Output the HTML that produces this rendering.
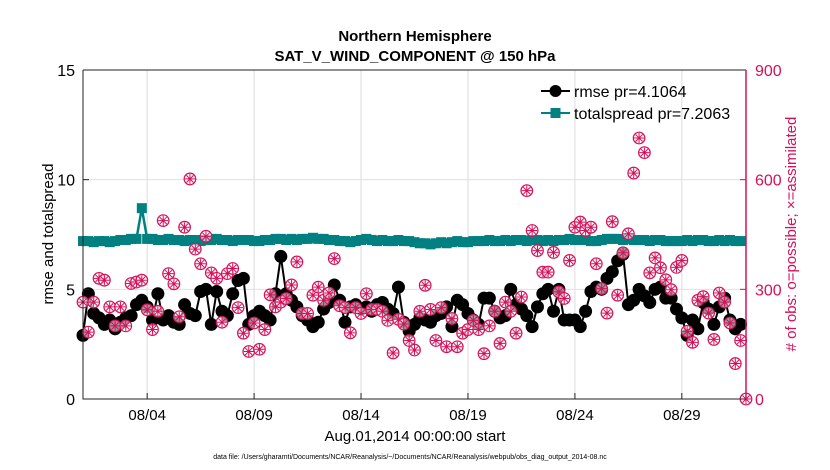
<!DOCTYPE html>
<html><head><meta charset="utf-8"><style>
body{margin:0;background:#fff;}
svg{display:block;font-family:"Liberation Sans",Arial,sans-serif;}
</style></head><body>
<svg id="chart" width="830" height="470" viewBox="0 0 830 470">
<rect width="830" height="470" fill="#fff"/>
<text x="415" y="41" text-anchor="middle" font-size="15" font-weight="bold">Northern Hemisphere</text>
<text x="415" y="61" text-anchor="middle" font-size="15" font-weight="bold">SAT_V_WIND_COMPONENT @ 150 hPa</text>
<g id="grid"></g>
<g id="marks"></g>
<g id="axes"></g>
<g>
<line x1="541" y1="91" x2="570" y2="91" stroke="#000" stroke-width="2"/>
<circle cx="555.5" cy="91" r="6" fill="#000"/>
<text x="574" y="97" font-size="16">rmse pr=4.1064</text>
<line x1="541" y1="113" x2="570" y2="113" stroke="#008080" stroke-width="2"/>
<rect x="550.5" y="108" width="10" height="10" fill="#008080"/>
<text x="574" y="119" font-size="16">totalspread pr=7.2063</text>
</g>
<text transform="translate(53,234) rotate(-90)" text-anchor="middle" font-size="15">rmse and totalspread</text>
<text transform="translate(796,234) rotate(-90)" text-anchor="middle" font-size="15" fill="#d6105a"># of obs: o=possible; ×=assimilated</text>
<text x="415" y="441" text-anchor="middle" font-size="15">Aug.01,2014 00:00:00 start</text>
<text x="410" y="459" text-anchor="middle" font-size="7">data file: /Users/gharamti/Documents/NCAR/Reanalysis/~/Documents/NCAR/Reanalysis/webpub/obs_diag_output_2014-08.nc</text>
</svg>
<script>
const rmse=[2.9,4.8,3.9,3.7,3.4,3.6,3.2,3.5,3.7,3.8,4.3,4.5,4.2,3.6,4.8,3.6,3.8,3.5,3.4,4.3,3.9,3.8,4.9,5.0,3.4,4.9,4.0,3.8,4.8,5.4,5.5,3.4,3.8,4.0,3.8,3.6,4.8,6.5,4.8,4.5,4.2,
3.8,3.6,3.3,3.5,4.1,4.4,5.2,4.5,3.5,4.2,4.3,4.1,4.2,4.0,4.3,4.4,4.1,3.9,5.1,3.5,3.1,3.4,3.7,3.6,3.5,3.8,3.9,4.2,3.3,4.5,4.3,3.9,3.6,3.4,4.6,4.6,4.0,3.7,3.8,5.0,4.3,
4.1,3.8,3.3,4.2,4.8,5.0,4.0,5.0,3.6,3.6,3.6,3.3,4.0,4.9,5.1,5.0,5.5,5.8,6.3,6.6,4.3,4.5,5.0,4.7,4.4,5.0,5.1,4.6,4.6,4.1,3.7,2.9,3.6,3.2,4.4,4.1,3.4,4.2,4.6,3.6,3.2,3.4];
const spread=[7.2,7.2,7.15,7.2,7.2,7.15,7.2,7.25,7.25,7.3,7.3,8.7,7.3,7.3,7.25,7.25,7.3,7.25,7.25,7.2,7.25,7.25,7.2,7.25,7.25,7.3,7.25,7.25,7.2,7.25,7.25,7.25,7.2,7.2,7.25,7.25,7.3,7.3,7.25,7.3,7.25,
7.3,7.3,7.35,7.3,7.3,7.25,7.25,7.2,7.2,7.15,7.2,7.25,7.3,7.25,7.2,7.25,7.2,7.2,7.25,7.2,7.2,7.15,7.1,7.1,7.05,7.1,7.15,7.1,7.15,7.2,7.15,7.15,7.2,7.2,7.2,7.25,7.2,7.2,7.25,7.2,7.25,
7.25,7.2,7.25,7.25,7.2,7.25,7.2,7.25,7.25,7.3,7.25,7.25,7.25,7.2,7.2,7.25,7.3,7.3,7.3,7.25,7.3,7.25,7.25,7.25,7.2,7.25,7.25,7.2,7.2,7.2,7.2,7.25,7.2,7.25,7.25,7.2,7.2,7.25,7.2,7.25,7.2,7.2];
const obs=[265,183,265,330,325,252,200,252,200,316,320,325,244,190,240,488,343,315,225,470,602,410,370,445,345,330,210,343,357,250,180,130,208,136,190,285,252,265,275,312,375,
234,234,284,306,270,290,384,255,250,181,250,234,288,245,245,240,215,126,218,205,160,134,240,311,245,160,250,143,220,143,180,190,215,190,124,200,240,152,265,240,180,
279,570,461,406,347,347,401,293,275,379,470,484,461,470,370,302,235,485,284,400,452,618,714,674,345,386,359,326,299,360,379,185,155,270,280,235,163,290,265,208,97,160,0];
const xTickDays=[3,8,13,18,23,28];
const xTickLabels=["08/04","08/09","08/14","08/19","08/24","08/29"];
const yTicks=[0,5,10,15];
const y2Ticks=[0,300,600,900];

const NS="http://www.w3.org/2000/svg";
const L=83,R=746,T=70,B=399;
const xs=d=>L+(d/31)*(R-L);
const ys=v=>B-(v/15)*(B-T);
const ys2=v=>B-(v/900)*(B-T);
function mk(tag,attrs,parent){const e=document.createElementNS(NS,tag);for(const k in attrs)e.setAttribute(k,attrs[k]);parent.appendChild(e);return e;}
const grid=document.getElementById('grid'),marks=document.getElementById('marks'),axes=document.getElementById('axes');

xTickDays.forEach((d,i)=>{
 const g=mk('line',{x1:xs(d),x2:xs(d),y1:T,y2:B,stroke:'#dcdcdc','stroke-width':1},grid);
 
 
 const t=mk('line',{x1:xs(d),x2:xs(d),y1:B,y2:B-6,stroke:'#222'},axes);
 
 
 const tx=mk('text',{x:xs(d),y:B+21,'text-anchor':'middle','font-size':15},axes);
 tx.textContent=xTickLabels[i];
 
 
});
yTicks.forEach(v=>{
 if(v>0&&v<15){const g=mk('line',{x1:L,x2:R,y1:ys(v),y2:ys(v),stroke:'#f0d8e0','stroke-width':1},grid);
 
 }
 const t=mk('line',{x1:L,x2:L+6,y1:ys(v),y2:ys(v),stroke:'#222'},axes);
 
 
 const tx=mk('text',{x:L-8,y:ys(v)+6,'text-anchor':'end','font-size':16},axes);
 tx.textContent=v;
 
 
});
y2Ticks.forEach(v=>{
 const t=mk('line',{x1:R,x2:R-6,y1:ys2(v),y2:ys2(v),stroke:'#d6105a'},axes);
 
 
 const tx=mk('text',{x:R+9,y:ys2(v)+6,'font-size':16,fill:'#d6105a'},axes);
 tx.textContent=v;
 
 
});
const fr=mk('path',{d:`M${L},${T}H${R}M${L},${T}V${B}H${R}`,fill:'none',stroke:'#222','stroke-width':1},axes);


const ra=mk('line',{x1:R,x2:R,y1:T,y2:B,stroke:'#d6105a','stroke-width':1.5},axes);



const sp=mk('polyline',{points:spread.map((v,i)=>xs(i*0.25)+','+ys(v)).join(' '),fill:'none',stroke:'#008080','stroke-width':2.5},marks);


spread.forEach((v,i)=>{
 const r=mk('rect',{x:xs(i*0.25)-5,y:ys(v)-5,width:10,height:10,fill:'#008080'},marks);
 
 
});
const rl=mk('polyline',{points:rmse.map((v,i)=>xs(i*0.25)+','+ys(v)).join(' '),fill:'none',stroke:'#000','stroke-width':2},marks);


rmse.forEach((v,i)=>{
 const c=mk('circle',{cx:xs(i*0.25),cy:ys(v),r:6.5,fill:'#000'},marks);
 
 
});
obs.forEach((v,i)=>{
 const cx=xs(i*0.25),cy=ys2(v);
 const g=mk('g',{},marks);
 
 
 mk('circle',{cx:cx,cy:cy,r:5.8,fill:'#fff','fill-opacity':0.6,stroke:'#d6105a','stroke-width':1.2},g);
 let d='';
 for(let a=0;a<4;a++){const an=a*Math.PI/4,dx=5*Math.cos(an),dy=5*Math.sin(an);d+=`M${cx-dx},${cy-dy}L${cx+dx},${cy+dy}`;}
 mk('path',{d:d,stroke:'#d6105a','stroke-width':1},g);
});
</script>
</body></html>
